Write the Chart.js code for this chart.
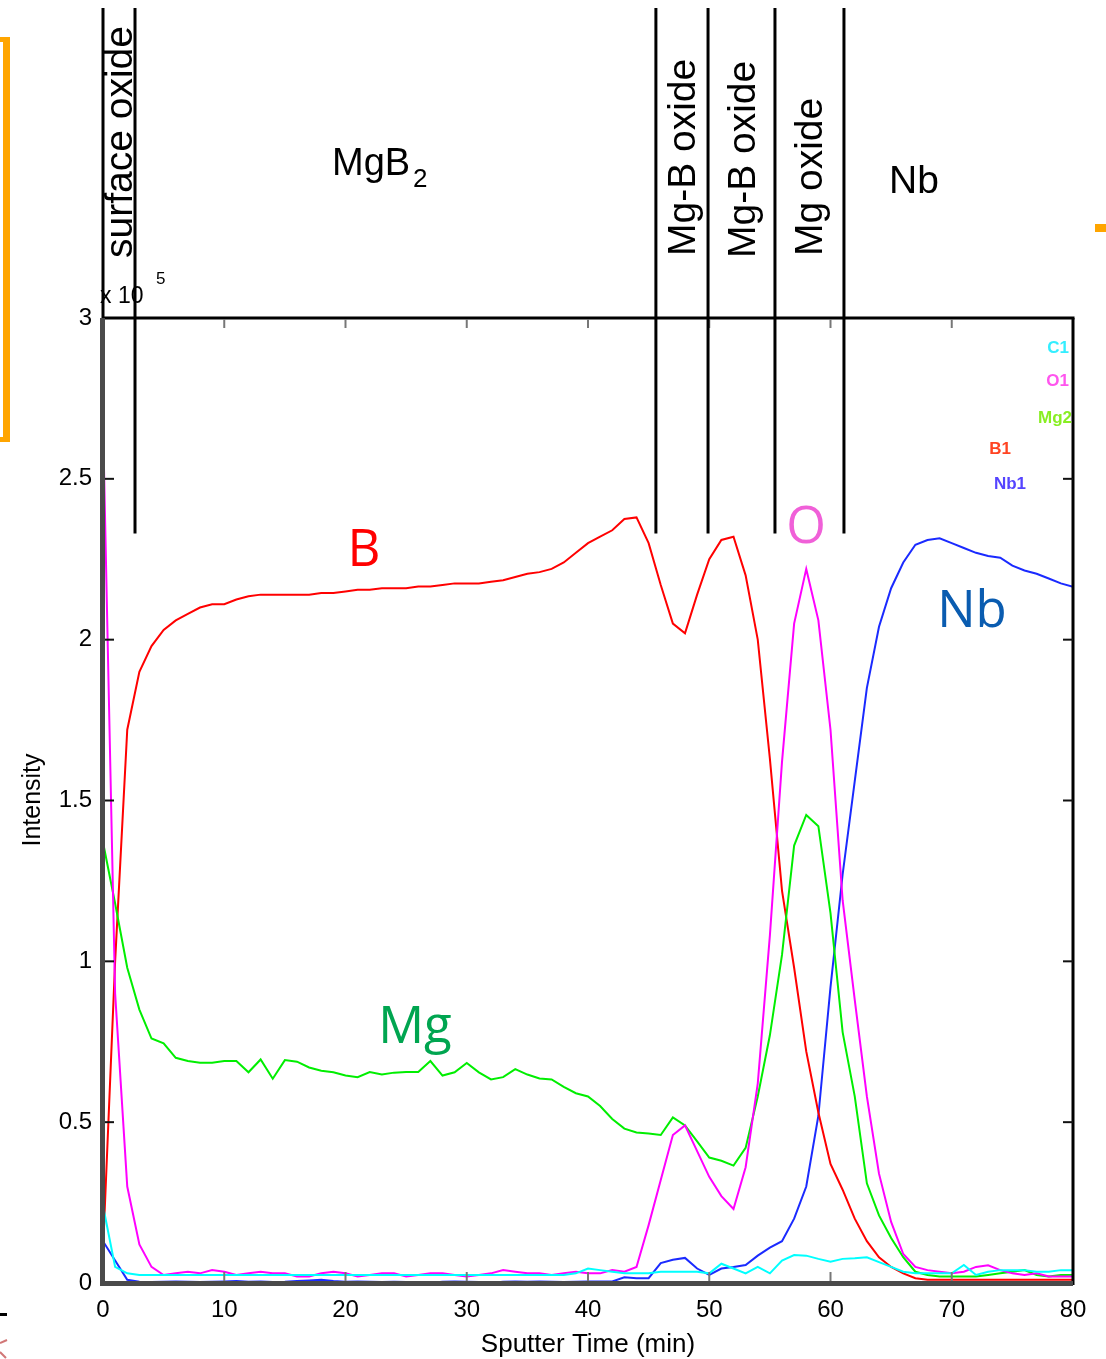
<!DOCTYPE html>
<html>
<head>
<meta charset="utf-8">
<script src="https://cdn.jsdelivr.net/npm/chart.js@4.4.1/dist/chart.umd.min.js"></script>
<style>
  html, body { margin: 0; padding: 0; background: #ffffff; }
  #wrap { width: 1106px; height: 1359px; position: relative; }
  canvas { display: block; }
</style>
</head>
<body>
<div id="wrap"><canvas id="c" width="1106" height="1359"></canvas></div>
<script>
// ---- Data (sputter time in minutes, intensity in units of 1e5) ----
const times = [0,1,2,3,4,5,6,7,8,9,10,11,12,13,14,15,16,17,18,19,20,21,22,23,24,25,26,27,28,29,30,31,32,33,34,35,36,37,38,39,40,41,42,43,44,45,46,47,48,49,50,51,52,53,54,55,56,57,58,59,60,61,62,63,64,65,66,67,68,69,70,71,72,73,74,75,76,77,78,79,80];

const c1 = [0.24,0.05,0.03,0.025,0.025,0.025,0.025,0.025,0.025,0.025,0.025,0.025,0.025,0.025,0.025,0.025,0.025,0.025,0.025,0.025,0.025,0.025,0.025,0.025,0.025,0.025,0.025,0.025,0.025,0.025,0.025,0.025,0.025,0.025,0.025,0.025,0.025,0.025,0.025,0.03,0.045,0.04,0.035,0.03,0.03,0.03,0.035,0.035,0.035,0.035,0.03,0.06,0.045,0.03,0.05,0.03,0.07,0.087,0.085,0.075,0.066,0.075,0.077,0.08,0.065,0.05,0.035,0.03,0.03,0.03,0.03,0.056,0.025,0.035,0.04,0.04,0.04,0.035,0.035,0.04,0.04];

const o1 = [2.68,0.9,0.3,0.12,0.05,0.025,0.03,0.035,0.03,0.04,0.035,0.025,0.03,0.035,0.03,0.03,0.02,0.02,0.03,0.035,0.03,0.02,0.025,0.03,0.03,0.02,0.025,0.03,0.03,0.025,0.02,0.025,0.03,0.04,0.035,0.03,0.03,0.025,0.03,0.035,0.03,0.03,0.04,0.035,0.05,0.18,0.32,0.46,0.49,0.41,0.33,0.27,0.23,0.36,0.62,1.08,1.62,2.05,2.22,2.06,1.72,1.19,0.88,0.58,0.34,0.19,0.09,0.05,0.04,0.035,0.03,0.035,0.05,0.055,0.04,0.03,0.025,0.03,0.02,0.02,0.02];

const mg2 = [1.37,1.18,0.98,0.85,0.76,0.745,0.7,0.69,0.685,0.685,0.69,0.69,0.655,0.695,0.635,0.693,0.688,0.67,0.66,0.655,0.645,0.64,0.656,0.648,0.654,0.656,0.656,0.69,0.645,0.655,0.684,0.655,0.633,0.64,0.665,0.648,0.636,0.633,0.61,0.59,0.58,0.55,0.51,0.48,0.468,0.465,0.46,0.515,0.49,0.44,0.39,0.38,0.365,0.42,0.58,0.77,1.02,1.36,1.455,1.42,1.15,0.78,0.58,0.31,0.21,0.14,0.08,0.035,0.025,0.02,0.02,0.02,0.02,0.025,0.03,0.035,0.04,0.025,0.02,0.025,0.025];

const b1 = [0.1,1.0,1.72,1.9,1.98,2.03,2.06,2.08,2.1,2.11,2.11,2.125,2.135,2.14,2.14,2.14,2.14,2.14,2.145,2.145,2.15,2.155,2.155,2.16,2.16,2.16,2.165,2.165,2.17,2.175,2.175,2.175,2.18,2.185,2.195,2.205,2.21,2.22,2.24,2.27,2.3,2.32,2.34,2.375,2.38,2.3,2.17,2.05,2.02,2.14,2.25,2.31,2.32,2.2,2.0,1.63,1.22,0.98,0.72,0.53,0.37,0.29,0.2,0.13,0.08,0.05,0.03,0.015,0.01,0.01,0.01,0.01,0.01,0.01,0.01,0.01,0.01,0.01,0.01,0.01,0.01];

const nb1 = [0.13,0.07,0.01,0.004,0.003,0.004,0.005,0.004,0.003,0.004,0.005,0.006,0.004,0.005,0.003,0.004,0.006,0.008,0.01,0.006,0.004,0.005,0.004,0.003,0.004,0.003,0.002,0.0,0.004,0.005,0.004,0.003,0.0,0.004,0.005,0.004,0.005,0.004,0.003,0.004,0.005,0.005,0.005,0.018,0.015,0.015,0.062,0.072,0.078,0.045,0.025,0.045,0.05,0.056,0.085,0.11,0.13,0.2,0.3,0.52,0.92,1.27,1.56,1.85,2.04,2.16,2.24,2.295,2.31,2.315,2.3,2.285,2.27,2.26,2.255,2.23,2.215,2.205,2.19,2.175,2.164];

// ---- Tick labels & annotation text ----
const xTicks = [0,10,20,30,40,50,60,70,80];
const yTicks = [0,0.5,1,1.5,2,2.5,3];
const yTickLabels = ['0','0.5','1','1.5','2','2.5','3'];
const xTitle = 'Sputter Time (min)';
const yTitle = 'Intensity';
const seriesNames = ['C1','O1','Mg2','B1','Nb1'];
const regionBounds = [2.64, 45.6, 49.9, 55.42, 61.11];
const regionLabels = ['surface oxide','MgB','Mg-B oxide','Mg-B oxide','Mg oxide','Nb'];
const elementLabels = ['B','Mg','O','Nb'];

const seriesColors = ['#00ffff','#ff00ff','#00ee00','#ff0000','#1a2aff'];

function pts(vals){ return times.map((t,i)=>({x:t, y:vals[i]})); }

const bg = {
  id:'bg',
  beforeDraw(chart){
    const c = chart.ctx; c.save(); c.fillStyle='#ffffff'; c.fillRect(0,0,chart.width,chart.height); c.restore();
  }
};

const deco = {
  id:'deco',
  afterDraw(chart){
    const c = chart.ctx;
    const xs = chart.scales.x, ys = chart.scales.y;
    const L = xs.getPixelForValue(0), R = xs.getPixelForValue(80);
    const T = ys.getPixelForValue(3), B = ys.getPixelForValue(0);
    c.save();
    // frame
    c.lineCap='butt';
    c.strokeStyle='#000'; c.lineWidth=3;
    c.beginPath(); c.moveTo(L, T); c.lineTo(R+1.5, T); c.stroke();
    c.beginPath(); c.moveTo(R, T); c.lineTo(R, B+2); c.stroke();
    c.strokeStyle='#4a4a4a'; c.lineWidth=5;
    c.beginPath(); c.moveTo(L-0.5, T); c.lineTo(L-0.5, B+2); c.stroke();
    c.beginPath(); c.moveTo(L-3, B+0.5); c.lineTo(R, B+0.5); c.stroke();
    // ticks
    c.lineWidth=2;
    yTicks.forEach(v=>{
      const y = ys.getPixelForValue(v);
      if (v===0 || v===3) return;
      c.strokeStyle='#111';
      c.beginPath(); c.moveTo(L+2, y); c.lineTo(L+11, y); c.stroke();
      c.beginPath(); c.moveTo(R-10, y); c.lineTo(R, y); c.stroke();
    });
    xTicks.forEach(v=>{
      const x = xs.getPixelForValue(v);
      if (v===0 || v===80) return;
      c.strokeStyle='#777';
      c.beginPath(); c.moveTo(x, B-2); c.lineTo(x, B-11); c.stroke();
      c.beginPath(); c.moveTo(x, T+1); c.lineTo(x, T+10); c.stroke();
    });
    // tick labels
    c.fillStyle='#000';
    c.font='24px "Liberation Sans", Arial, sans-serif';
    c.textAlign='right'; c.textBaseline='middle';
    yTicks.forEach((v,i)=>{ c.fillText(yTickLabels[i], L-11, ys.getPixelForValue(v)); });
    c.textAlign='center'; c.textBaseline='top';
    xTicks.forEach(v=>{ c.fillText(String(v), xs.getPixelForValue(v), B+15); });
    // axis titles
    c.font='26px "Liberation Sans", Arial, sans-serif';
    c.textAlign='center'; c.textBaseline='alphabetic';
    c.fillText(xTitle, (L+R)/2 - 0, 1352);
    c.save(); c.translate(40, 800); c.rotate(-Math.PI/2);
    c.font='25px "Liberation Sans", Arial, sans-serif';
    c.fillText(yTitle, 0, 0); c.restore();
    // x 10^5
    c.textAlign='left';
    c.font='23px "Liberation Sans", Arial, sans-serif';
    c.fillText('x 10', L-3, 303);
    c.font='17px "Liberation Sans", Arial, sans-serif';
    c.fillText('5', L+53, 284);
    // region boundary lines
    const lineBottom = ys.getPixelForValue(2.33);
    c.strokeStyle='#000'; c.lineWidth=3;
    c.beginPath(); c.moveTo(L, 8); c.lineTo(L, T); c.stroke();
    regionBounds.forEach(t=>{
      const x = xs.getPixelForValue(t);
      c.beginPath(); c.moveTo(x, 8); c.lineTo(x, lineBottom); c.stroke();
    });
    // region labels
    c.fillStyle='#000';
    c.font='39px "Liberation Sans", Arial, sans-serif';
    function vtext(txt, xBase, yStart){
      c.save(); c.translate(xBase, yStart); c.rotate(-Math.PI/2);
      c.textAlign='left'; c.textBaseline='alphabetic';
      c.fillText(txt, 0, 0); c.restore();
    }
    vtext(regionLabels[0], 132, 258);
    vtext(regionLabels[2], 695, 256);
    vtext(regionLabels[3], 755, 258);
    vtext(regionLabels[4], 822, 256);
    c.textAlign='left'; c.textBaseline='alphabetic';
    c.font='38px "Liberation Sans", Arial, sans-serif';
    c.fillText(regionLabels[1], 332, 175);
    c.font='26px "Liberation Sans", Arial, sans-serif';
    c.fillText('2', 413, 187);
    c.font='39px "Liberation Sans", Arial, sans-serif';
    c.fillText(regionLabels[5], 889, 193);
    // in-plot legend labels
    c.font='bold 17px "Liberation Sans", Arial, sans-serif';
    c.textAlign='right'; c.textBaseline='middle';
    const legPos = [[1069,348],[1069,381],[1072,418],[1011,449],[1026,484]];
    const legCols = ['#33eeff','#ff55ee','#88ee22','#ff4422','#5544ff'];
    seriesNames.forEach((n,i)=>{ c.fillStyle=legCols[i]; c.fillText(n, legPos[i][0], legPos[i][1]); });
    // element annotations
    c.font='51px "Open Sans", "Noto Sans", sans-serif';
    c.textAlign='center'; c.textBaseline='alphabetic';
    c.fillStyle='#ff0000'; c.fillText(elementLabels[0], 364, 566);
    c.fillStyle='#00a550'; c.fillText(elementLabels[1], 415, 1043);
    c.fillStyle='#f060d8'; c.fillText(elementLabels[2], 806, 543);
    c.fillStyle='#0a5cb0'; c.fillText(elementLabels[3], 972, 627);
    // decorative marks from the source page
    c.fillStyle='#ffa500';
    c.fillRect(0, 37, 10, 5);
    c.fillRect(3, 37, 7, 405);
    c.fillRect(0, 437, 10, 5);
    c.fillRect(1095, 224, 11, 8);
    c.fillStyle='#000'; c.fillRect(0, 1313, 7, 3);
    c.strokeStyle='rgba(190,60,60,0.7)'; c.lineWidth=2;
    c.beginPath(); c.moveTo(0, 1343); c.lineTo(7, 1340); c.stroke();
    c.beginPath(); c.moveTo(0, 1352); c.lineTo(6, 1358); c.stroke();
    c.restore();
  }
};

const ds = [c1, o1, mg2, b1, nb1].map((vals,i)=>({
  label: seriesNames[i],
  data: pts(vals),
  borderColor: seriesColors[i],
  backgroundColor: seriesColors[i],
  borderWidth: 2,
  pointRadius: 0,
  tension: 0,
  fill: false
}));

new Chart(document.getElementById('c').getContext('2d'), {
  type: 'line',
  data: { datasets: ds },
  options: {
    responsive: false,
    animation: false,
    devicePixelRatio: 1,
    layout: { padding: { left: 103, right: 33, top: 318, bottom: 76 } },
    scales: {
      x: { type: 'linear', min: 0, max: 80, display: false },
      y: { type: 'linear', min: 0, max: 3, display: false }
    },
    plugins: { legend: { display: false }, tooltip: { enabled: false } }
  },
  plugins: [bg, deco]
});
</script>
</body>
</html>
